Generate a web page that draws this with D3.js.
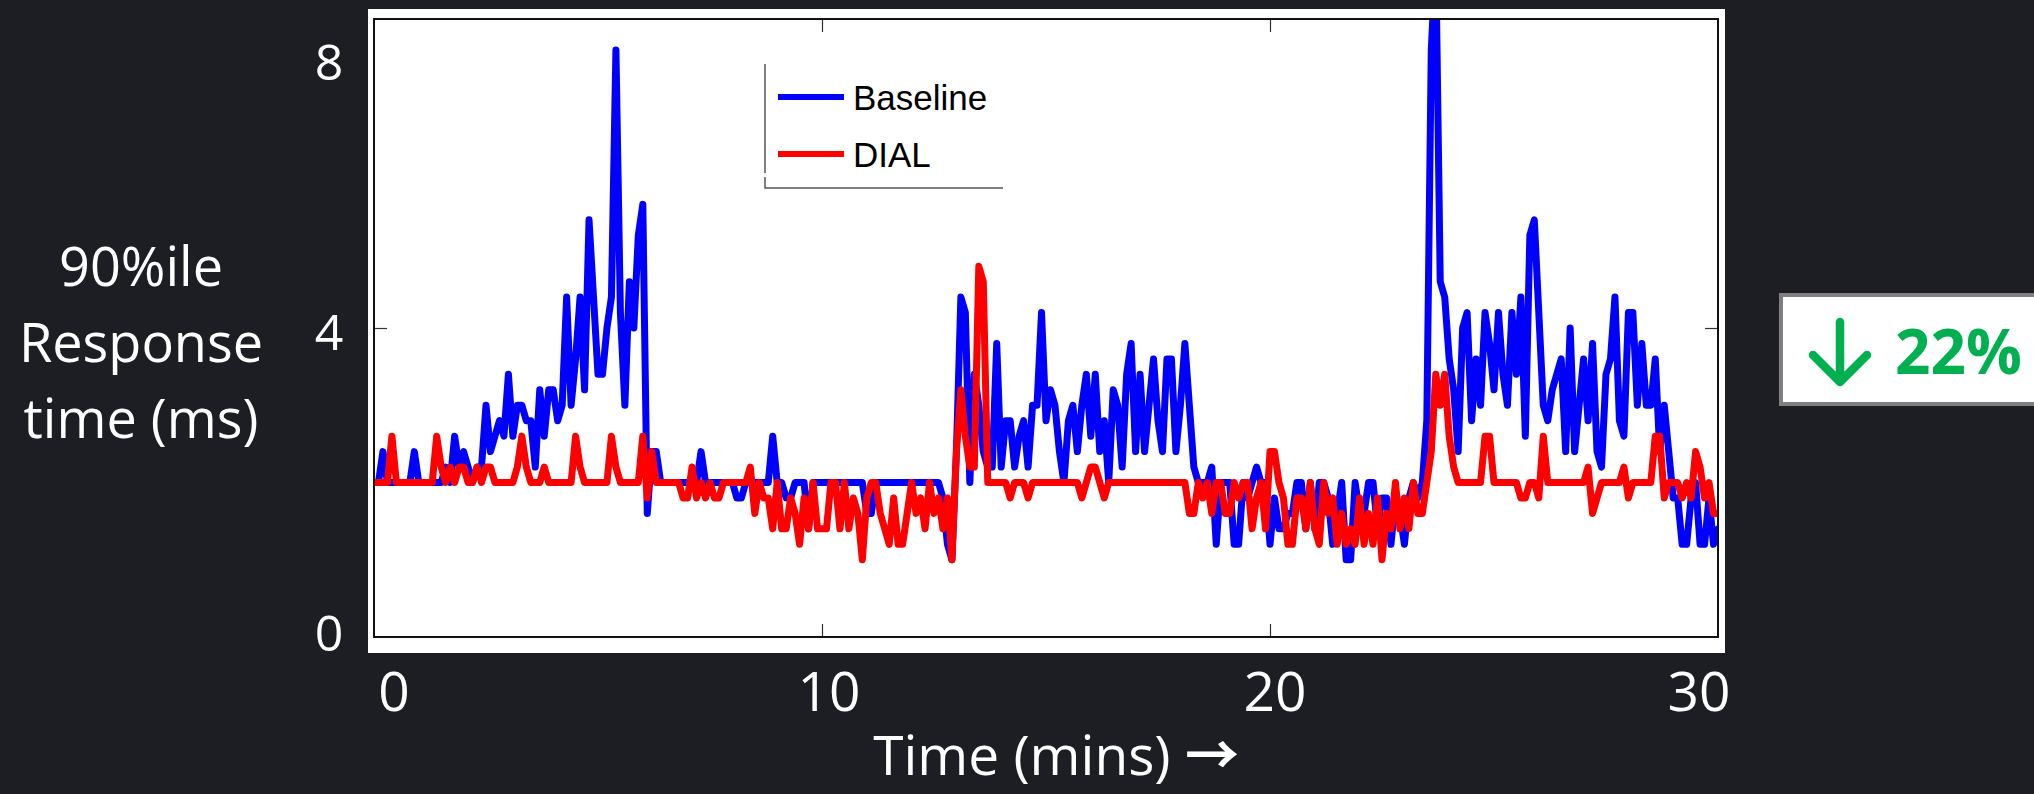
<!DOCTYPE html>
<html>
<head>
<meta charset="utf-8">
<script src="https://cdn.jsdelivr.net/npm/d3@7"></script>
<style>
  html, body { margin: 0; padding: 0; background: #1c1e23; }
  svg { display: block; }
</style>
</head>
<body>
<svg id="chart" width="2034" height="794"></svg>
<script>
// samples every 0.1 min (6 s), 0..30 min
var sampleStep = 0.1;

// 90%ile response time (ms), Baseline
var baseline = [
  2.0, 2.0, 2.4, 2.0, 2.0, 2.0, 2.0, 2.0, 2.0, 2.4,
  2.0, 2.0, 2.0, 2.0, 2.0, 2.0, 2.2, 2.0, 2.6, 2.2,
  2.4, 2.2, 2.0, 2.2, 2.2, 3.0, 2.4, 2.6, 2.8, 2.6,
  3.4, 2.6, 3.0, 3.0, 2.8, 2.8, 2.2, 3.2, 2.6, 3.2,
  3.2, 2.8, 3.0, 4.4, 3.0, 3.6, 4.4, 3.2, 5.4, 4.4,
  3.4, 3.4, 4.0, 4.4, 7.6, 4.2, 3.0, 4.6, 4.0, 5.2,
  5.6, 1.6, 2.4, 2.4, 2.0, 2.0, 2.0, 2.0, 2.0, 2.0,
  2.0, 2.0, 2.0, 2.4, 2.0, 2.0, 2.0, 2.0, 2.0, 2.0,
  2.0, 1.8, 1.8, 2.0, 2.0, 2.0, 2.0, 2.0, 2.0, 2.6,
  2.0, 2.0, 1.8, 1.8, 2.0, 2.0, 2.0, 1.4, 2.0, 2.0,
  2.0, 2.0, 2.0, 2.0, 2.0, 2.0, 2.0, 2.0, 2.0, 2.0,
  1.6, 1.6, 2.0, 2.0, 2.0, 2.0, 2.0, 2.0, 2.0, 2.0,
  2.0, 2.0, 2.0, 2.0, 2.0, 2.0, 2.0, 1.8, 1.2, 1.0,
  2.4, 4.4, 4.2, 2.0, 3.4, 3.0, 2.4, 2.2, 2.2, 3.8,
  2.2, 2.8, 2.8, 2.2, 2.6, 2.8, 2.2, 3.0, 3.0, 4.2,
  2.8, 3.2, 3.0, 2.4, 2.0, 2.8, 3.0, 2.4, 3.0, 3.4,
  2.6, 3.4, 2.4, 2.8, 2.0, 3.2, 3.0, 2.2, 3.4, 3.8,
  2.4, 3.4, 2.4, 3.0, 3.6, 2.8, 2.4, 3.6, 3.6, 2.4,
  3.0, 3.8, 3.0, 2.2, 2.0, 2.0, 2.0, 2.2, 1.2, 2.0,
  2.0, 2.0, 1.2, 1.2, 2.0, 1.8, 2.0, 2.2, 2.0, 2.0,
  1.2, 1.8, 1.4, 1.4, 1.6, 1.6, 2.0, 2.0, 1.4, 2.0,
  1.4, 2.0, 2.0, 1.8, 1.2, 1.6, 2.0, 1.0, 1.0, 2.0,
  1.6, 1.6, 2.0, 2.0, 1.4, 1.8, 1.8, 1.2, 1.8, 1.6,
  1.2, 1.8, 2.0, 1.8, 2.0, 2.8, 7.6, 8.8, 4.6, 4.4,
  3.6, 3.2, 2.4, 4.0, 4.2, 2.8, 3.6, 3.0, 4.2, 3.8,
  3.2, 4.2, 3.4, 3.0, 4.2, 3.4, 4.4, 2.6, 5.2, 5.4,
  4.2, 3.0, 2.8, 3.2, 3.4, 3.6, 2.4, 4.0, 2.4, 3.0,
  3.6, 2.8, 3.8, 2.4, 2.2, 3.4, 3.6, 4.4, 2.8, 2.6,
  4.2, 4.2, 3.0, 3.8, 3.0, 3.0, 3.6, 2.4, 3.0, 2.4,
  1.8, 1.8, 1.2, 1.2, 1.8, 2.0, 1.2, 1.2, 1.8, 1.2,
  1.4
];

// 90%ile response time (ms), DIAL
var dial = [
  2.0, 2.0, 2.0, 2.0, 2.6, 2.0, 2.0, 2.0, 2.0, 2.0,
  2.0, 2.0, 2.0, 2.0, 2.6, 2.2, 2.0, 2.2, 2.0, 2.2,
  2.2, 2.0, 2.0, 2.2, 2.0, 2.2, 2.2, 2.0, 2.0, 2.0,
  2.0, 2.0, 2.2, 2.6, 2.2, 2.0, 2.0, 2.0, 2.2, 2.0,
  2.0, 2.0, 2.0, 2.0, 2.0, 2.6, 2.2, 2.0, 2.0, 2.0,
  2.0, 2.0, 2.0, 2.6, 2.2, 2.0, 2.0, 2.0, 2.0, 2.0,
  2.6, 1.8, 2.4, 2.0, 2.0, 2.0, 2.0, 2.0, 2.0, 1.8,
  1.8, 2.2, 1.8, 2.0, 1.8, 2.0, 1.8, 1.8, 2.0, 2.0,
  2.0, 2.0, 2.0, 2.0, 2.2, 1.6, 2.0, 1.8, 1.8, 1.4,
  2.0, 1.4, 1.4, 1.8, 1.6, 1.2, 1.8, 1.4, 2.0, 1.4,
  1.4, 1.4, 2.0, 2.0, 1.4, 2.0, 1.4, 1.8, 1.6, 1.0,
  1.8, 2.0, 2.0, 1.6, 1.4, 1.2, 1.8, 1.2, 1.2, 1.6,
  2.0, 1.6, 1.8, 1.4, 2.0, 1.6, 1.8, 1.4, 1.8, 1.0,
  2.4, 3.2, 2.6, 2.2, 2.2, 4.8, 4.6, 2.0, 2.0, 2.0,
  2.0, 2.0, 1.8, 2.0, 2.0, 2.0, 1.8, 2.0, 2.0, 2.0,
  2.0, 2.0, 2.0, 2.0, 2.0, 2.0, 2.0, 2.0, 1.8, 2.0,
  2.2, 2.2, 2.0, 1.8, 2.0, 2.0, 2.0, 2.0, 2.0, 2.0,
  2.0, 2.0, 2.0, 2.0, 2.0, 2.0, 2.0, 2.0, 2.0, 2.0,
  2.0, 2.0, 1.6, 1.6, 2.0, 1.8, 2.0, 1.6, 2.0, 2.0,
  1.6, 1.6, 2.0, 1.8, 2.0, 2.0, 1.4, 1.8, 2.0, 1.4,
  2.4, 2.4, 2.0, 1.8, 1.2, 1.2, 1.8, 1.8, 1.4, 2.0,
  1.4, 1.2, 2.0, 1.6, 1.8, 1.2, 1.6, 1.2, 1.4, 1.2,
  1.8, 1.2, 1.6, 1.2, 1.8, 1.0, 1.6, 1.4, 2.0, 1.4,
  1.8, 1.4, 2.0, 1.6, 1.6, 2.0, 2.4, 3.4, 3.0, 3.4,
  2.6, 2.2, 2.0, 2.0, 2.0, 2.0, 2.0, 2.0, 2.6, 2.6,
  2.0, 2.0, 2.0, 2.0, 2.0, 2.0, 1.8, 1.8, 2.0, 2.0,
  1.8, 2.6, 2.0, 2.0, 2.0, 2.0, 2.0, 2.0, 2.0, 2.0,
  2.0, 2.2, 1.6, 1.8, 2.0, 2.0, 2.0, 2.0, 2.0, 2.2,
  1.8, 2.0, 2.0, 2.0, 2.0, 2.0, 2.6, 2.6, 1.8, 2.0,
  2.0, 2.0, 1.8, 2.0, 1.8, 2.4, 2.2, 1.8, 2.0, 1.6,
  1.6
];

var xTicks = [0, 10, 20, 30],
    yTicks = [0, 4, 8],
    seriesNames = ['Baseline', 'DIAL'],
    seriesColors = ['#0000ff', '#ff0000'],
    badgeText = '22%';

var svg = d3.select('#chart');
var font = '"Open Sans", "Noto Sans", sans-serif';

// plot box (matlab axes)
var x = d3.scaleLinear().domain([0, 30]).range([374, 1718]);
var y = d3.scaleLinear().domain([0, 8]).range([637, 19]);

// white figure panel
svg.append('rect')
   .attr('x', 368).attr('y', 9)
   .attr('width', 1357).attr('height', 644)
   .style('fill', '#ffffff');

// inward ticks on all four sides
var tickLen = 13;
function styleTicks(g){
    g.select('.domain').remove();
    g.selectAll('text').remove();
    g.selectAll('line').style('stroke', '#333333').style('stroke-width', 1.2);
}
svg.append('g').attr('transform', 'translate(0,' + y(0) + ')')
   .call(d3.axisBottom(x).tickValues([10, 20]).tickSize(-tickLen)).call(styleTicks);
svg.append('g').attr('transform', 'translate(0,' + y(8) + ')')
   .call(d3.axisTop(x).tickValues([10, 20]).tickSize(-tickLen)).call(styleTicks);
svg.append('g').attr('transform', 'translate(' + x(0) + ',0)')
   .call(d3.axisLeft(y).tickValues([4]).tickSize(-tickLen)).call(styleTicks);
svg.append('g').attr('transform', 'translate(' + x(30) + ',0)')
   .call(d3.axisRight(y).tickValues([4]).tickSize(-tickLen)).call(styleTicks);

// clip lines to the axes box
svg.append('clipPath').attr('id', 'plotClip')
   .append('rect')
   .attr('x', x(0)).attr('y', y(8))
   .attr('width', x(30) - x(0)).attr('height', y(0) - y(8));

var line = d3.line()
    .x(function(d, i){ return x(i * sampleStep); })
    .y(function(d){ return y(d); });

svg.append('g').attr('clip-path', 'url(#plotClip)')
   .selectAll('path')
   .data([baseline, dial])
   .enter()
   .append('path')
   .attr('d', line)
   .style('fill', 'none')
   .style('stroke', function(d, i){ return seriesColors[i]; })
   .style('stroke-width', 7)
   .style('stroke-linejoin', 'round')
   .style('stroke-linecap', 'round');

// axes frame
svg.append('rect')
   .attr('x', x(0)).attr('y', y(8))
   .attr('width', x(30) - x(0)).attr('height', y(0) - y(8))
   .style('fill', 'none')
   .style('stroke', '#111111')
   .style('stroke-width', 2);

// legend (only left and bottom edges show)
var legend = svg.append('g').attr('transform', 'translate(765,64)');
legend.append('path')
      .attr('d', 'M0,0V109M0,113V124H238')
      .style('fill', 'none')
      .style('stroke', '#555555')
      .style('stroke-width', 1.5);
var entry = legend.selectAll('g.entry')
      .data(seriesNames)
      .enter()
      .append('g')
      .attr('class', 'entry')
      .attr('transform', function(d, i){ return 'translate(0,' + (33 + i * 57) + ')'; });
entry.append('line')
     .attr('x1', 13).attr('x2', 79)
     .style('stroke', function(d, i){ return seriesColors[i]; })
     .style('stroke-width', 6);
entry.append('text')
     .text(function(d){ return d; })
     .attr('x', 88).attr('y', 13)
     .style('font-family', 'Arial, "Liberation Sans", sans-serif')
     .style('font-size', '35px')
     .style('fill', '#000000');

// slide overlay tick labels (white, outside the figure)
var xLabelPos = d3.scaleLinear().domain([0, 10, 20, 30]).range([394, 829, 1275, 1699]);
var yLabelPos = d3.scaleLinear().domain([0, 4, 8]).range([632, 331, 61]);

svg.append('g').selectAll('text')
   .data(xTicks)
   .enter()
   .append('text')
   .text(function(d){ return d; })
   .attr('x', function(d){ return xLabelPos(d); })
   .attr('y', 711)
   .style('text-anchor', 'middle')
   .style('font-family', font)
   .style('font-size', '55px')
   .style('fill', '#ffffff');

svg.append('g').selectAll('text')
   .data(yTicks)
   .enter()
   .append('text')
   .text(function(d){ return d; })
   .attr('x', 329)
   .attr('y', function(d){ return yLabelPos(d); })
   .style('text-anchor', 'middle')
   .style('dominant-baseline', 'central')
   .style('font-family', font)
   .style('font-size', '50px')
   .style('fill', '#ffffff');

// axis titles
var xTitle = svg.append('text')
   .attr('x', 1056).attr('y', 775)
   .style('text-anchor', 'middle')
   .style('font-family', font)
   .style('font-size', '55px')
   .style('fill', '#ffffff');
xTitle.append('tspan').text('Time (mins) ');
xTitle.append('tspan')
      .text('\u2192')
      .style('font-family', '"Noto Sans CJK JP", "DejaVu Sans", sans-serif')
      .style('font-weight', 'bold')
      .style('font-size', '54px');

svg.append('text')
   .attr('x', 141).attr('y', 286)
   .style('text-anchor', 'middle')
   .style('font-family', font)
   .style('font-size', '54px')
   .style('fill', '#ffffff')
   .selectAll('tspan')
   .data(['90%ile', 'Response', 'time (ms)'])
   .enter()
   .append('tspan')
   .attr('x', 141)
   .attr('dy', function(d, i){ return i ? 76 : 0; })
   .text(function(d){ return d; });

// improvement badge
var badge = svg.append('g').attr('transform', 'translate(1781,295)');
badge.append('rect')
     .attr('width', 270).attr('height', 109)
     .style('fill', '#ffffff')
     .style('stroke', '#7f7f7f')
     .style('stroke-width', 4);
var arrow = d3.path();
arrow.moveTo(59, 27); arrow.lineTo(59, 86);
arrow.moveTo(32, 60); arrow.lineTo(59, 87); arrow.lineTo(86, 60);
badge.append('path')
     .attr('d', arrow.toString())
     .style('fill', 'none')
     .style('stroke', '#00b050')
     .style('stroke-width', 8.5)
     .style('stroke-linecap', 'round')
     .style('stroke-linejoin', 'round');
badge.append('text')
     .text(badgeText)
     .attr('x', 114).attr('y', 79)
     .style('font-family', font)
     .style('font-weight', 'bold')
     .style('font-size', '62px')
     .style('fill', '#00b050');
</script>
</body>
</html>
